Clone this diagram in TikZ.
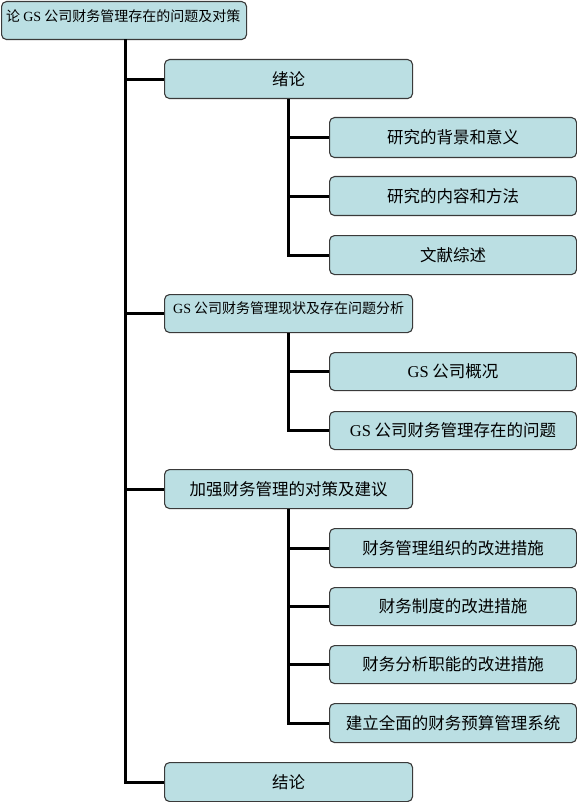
\documentclass[tikz,border=0pt]{standalone}
\usepackage{fontspec}
\setmainfont{Noto Sans CJK SC}
\newfontfamily\lat{Liberation Serif}
\definecolor{boxfill}{HTML}{BBDFE3}
\definecolor{boxline}{HTML}{3A3A3A}
\begin{document}
\begin{tikzpicture}[x=1pt,y=-1pt,
  box/.style={draw=boxline,line width=1.1pt,fill=boxfill,rounded corners=5pt,
    anchor=north west,inner sep=0pt,font=\fontsize{16.5}{16.5}\selectfont},
  lone/.style={box,minimum width=248pt},
  ltwo/.style={box,minimum width=247pt},
  lefttext/.style={anchor=west,inner sep=0pt,font=\fontsize{14}{14}\selectfont},
  conn/.style={line width=3pt,draw=black}]
\useasboundingbox (0,0) rectangle (577,802);
% root
\node[box,minimum width=245pt,minimum height=38pt] (root) at (1,1) {};
\node[lefttext] (roott) at (6,16) {论 {\lat GS} 公司财务管理存在的问题及对策};
% level 1
\node[lone,minimum height=39pt] (a) at (164,59) {绪论};
\node[lone,minimum height=38pt] (b) at (164,294) {};
\node[lefttext] (bt) at (173,308) {{\lat GS} 公司财务管理现状及存在问题分析};
\node[lone,minimum height=39pt] (c) at (164,469) {加强财务管理的对策及建议};
\node[lone,minimum height=39pt] (d) at (164,762) {结论};
% level 2
\node[ltwo,minimum height=40pt] (a1) at (329,117) {研究的背景和意义};
\node[ltwo,minimum height=39pt] (a2) at (329,176) {研究的内容和方法};
\node[ltwo,minimum height=39pt] (a3) at (329,235) {文献综述};
\node[ltwo,minimum height=38pt] (b1) at (329,352) {{\lat GS} 公司概况};
\node[ltwo,minimum height=38pt] (b2) at (329,411) {{\lat GS} 公司财务管理存在的问题};
\node[ltwo,minimum height=39pt] (c1) at (329,528) {财务管理组织的改进措施};
\node[ltwo,minimum height=38pt] (c2) at (329,587) {财务制度的改进措施};
\node[ltwo,minimum height=38pt] (c3) at (329,645) {财务分析职能的改进措施};
\node[ltwo,minimum height=39pt] (c4) at (329,703) {建立全面的财务预算管理系统};
% connectors
\coordinate (t0) at (125,39.5);
\draw[conn] (t0) |- (d.west);
\draw[conn] (t0) |- (a.west);
\draw[conn] (t0) |- (b.west);
\draw[conn] (t0) |- (c.west);
\draw[conn] (a.south) |- (a1.west);
\draw[conn] (a.south) |- (a2.west);
\draw[conn] (a.south) |- (a3.west);
\draw[conn] (b.south) |- (b1.west);
\draw[conn] (b.south) |- (b2.west);
\draw[conn] (c.south) |- (c1.west);
\draw[conn] (c.south) |- (c2.west);
\draw[conn] (c.south) |- (c3.west);
\draw[conn] (c.south) |- (c4.west);
\end{tikzpicture}
\end{document}
